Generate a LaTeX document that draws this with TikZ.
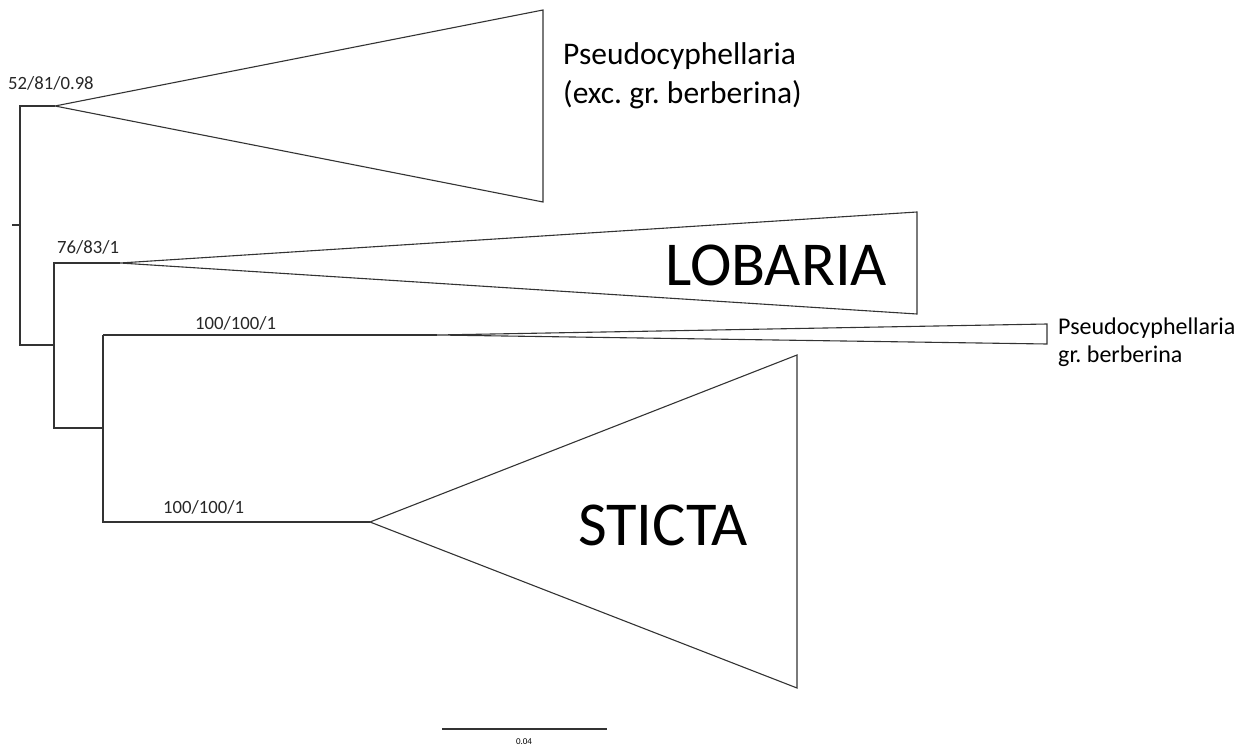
\documentclass[tikz,border=0pt]{standalone}
\usepackage{fontspec}
\setmainfont{Carlito}
\frenchspacing

\tikzset{
  branch/.style={line width=1.1pt,draw=black!80},
  clade/.style={line width=1.1pt,draw=black!80,line join=miter},
  support/.style={anchor=base west,inner sep=0pt,font=\fontsize{18.7}{20}\selectfont,text=black!85},
  taxon/.style={anchor=base west,inner sep=0pt,align=left,text=black}
}

\begin{document}
\begin{tikzpicture}[x=1pt,y=-1pt]
\useasboundingbox (0,0) rectangle (1238,746);

% internal nodes and clade apexes
\coordinate (root) at (20,225);
\coordinate (n2) at (54,345);
\coordinate (n3) at (103,428);
\coordinate (Pse) at (55,106);
\coordinate (Lob) at (120,263);
\coordinate (Ber) at (437,335);
\coordinate (Sti) at (370,522);

% tree
\draw[branch] (12,225) -- (root);
\draw[branch] (Pse) -| (root) |- (n2);
\draw[branch] (Lob) -| (n2) |- (n3);
\draw[branch] (103,335) -| (n3) |- (Sti);
\draw[branch] (103,335) -- (Ber);

% collapsed clades
\draw[clade] (Pse) -- (543,10) -- (543,202) -- cycle;
\draw[clade] (Lob) -- (917,212) -- (917,314) -- cycle;
\draw[clade] (Ber) -- (1047,324) -- (1047,344) -- cycle;
\draw[clade] (Sti) -- (797,355) -- (797,688) -- cycle;

% support values
\node[support] (sPse) at (8,90) {52/81/0.98};
\node[support] (sLob) at (57,253) {76/83/1};
\node[support] (sBer) at (195,329) {100/100/1};
\node[support] (sSti) at (163,513) {100/100/1};

% clade names (base = last line)
\node[taxon,font=\fontsize{31.5}{39}\selectfont] (tPse) at (563,104) {Pseudocyphellaria\\(exc. gr. berberina)};
\node[taxon,font=\fontsize{62.5}{62}\selectfont] (tLob) at (665,285) {LOBARIA};
\node[taxon,font=\fontsize{24}{28}\selectfont] (tBer) at (1058,362) {Pseudocyphellaria\\gr. berberina};
\node[taxon,font=\fontsize{62.5}{62}\selectfont] (tSti) at (578,545) {STICTA};

% scale bar
\coordinate (sb1) at (442,729);
\coordinate (sb2) at (607,729);
\draw[branch] (sb1) -- (sb2);
\node[inner sep=0pt,anchor=base,font=\fontsize{9}{9}\selectfont] (sbl) at (524,744) {0.04};
\end{tikzpicture}
\end{document}
